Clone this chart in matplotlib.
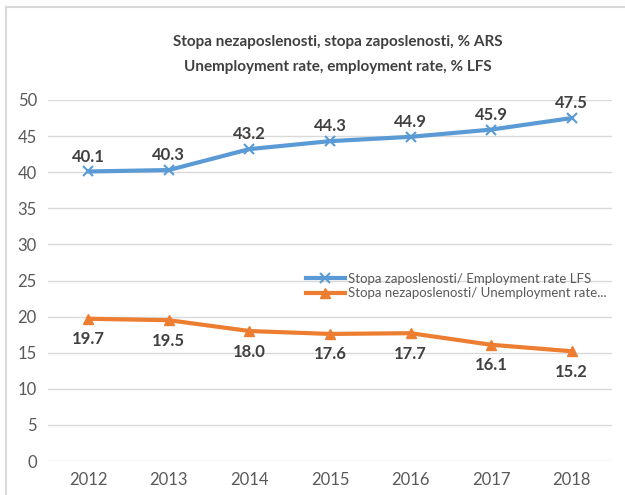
import matplotlib.pyplot as plt
from matplotlib.lines import Line2D

years = ["2012", "2013", "2014", "2015", "2016", "2017", "2018"]
employment = [40.1, 40.3, 43.2, 44.3, 44.9, 45.9, 47.5]
unemployment = [19.7, 19.5, 18.0, 17.6, 17.7, 16.1, 15.2]

blue = "#5B9BD5"
orange = "#ED7D31"
txt = "#404040"

plt.rcParams['font.family'] = ['Lato', 'DejaVu Sans']

fig = plt.figure(figsize=(6.25, 4.95), dpi=100)
ax = fig.add_axes([48 / 625, 1 - 461 / 495, (612 - 48) / 625, (461 - 100) / 495])

x = list(range(len(years)))
ax.plot(x, employment, color=blue, lw=3, marker="x", ms=7, mew=1.5,
        label="Stopa zaposlenosti/ Employment rate LFS")
ax.plot(x, unemployment, color=orange, lw=3, marker="^", ms=7,
        label="Stopa nezaposlenosti/ Unemployment rate...")

for i, v in enumerate(employment):
    ax.annotate("{:.1f}".format(v), xy=(i, v), xytext=(0, 5), textcoords="offset points",
                ha="center", va="bottom", fontsize=12, fontweight="bold", color=txt)
for i, v in enumerate(unemployment):
    ax.annotate("{:.1f}".format(v), xy=(i, v), xytext=(0, -9), textcoords="offset points",
                ha="center", va="top", fontsize=12, fontweight="bold", color=txt)

ax.set_xlim(-0.5, len(years) - 0.5)
ax.set_ylim(0, 50)
ax.set_yticks(range(0, 51, 5))
ax.set_xticks(x)
ax.set_xticklabels(years)
ax.grid(axis="y", color="#D9D9D9", lw=1)
ax.set_axisbelow(True)
for s in ax.spines.values():
    s.set_visible(False)
ax.tick_params(length=0, labelsize=12, labelcolor="#595959", pad=8)

ax.legend(loc="upper left", bbox_to_anchor=(0.445, 0.54), frameon=False, fontsize=9.5,
          labelcolor="#595959", handlelength=3.0, handletextpad=0.2, borderpad=0,
          labelspacing=0.2)

fig.text(0.54, 1 - 42 / 495, "Stopa nezaposlenosti, stopa zaposlenosti, % ARS",
         ha="center", va="center", fontsize=11, fontweight="bold", color=txt)
fig.text(0.54, 1 - 67 / 495, "Unemployment rate, employment rate, % LFS",
         ha="center", va="center", fontsize=11, fontweight="bold", color=txt)

fig.add_artist(Line2D([6 / 625, 6 / 625], [0, 1 - 7 / 495], color="#D9D9D9", lw=1.5))
fig.add_artist(Line2D([6 / 625, 1], [1 - 7 / 495, 1 - 7 / 495], color="#D9D9D9", lw=1.5))

fig.savefig("out.png", dpi=100)
